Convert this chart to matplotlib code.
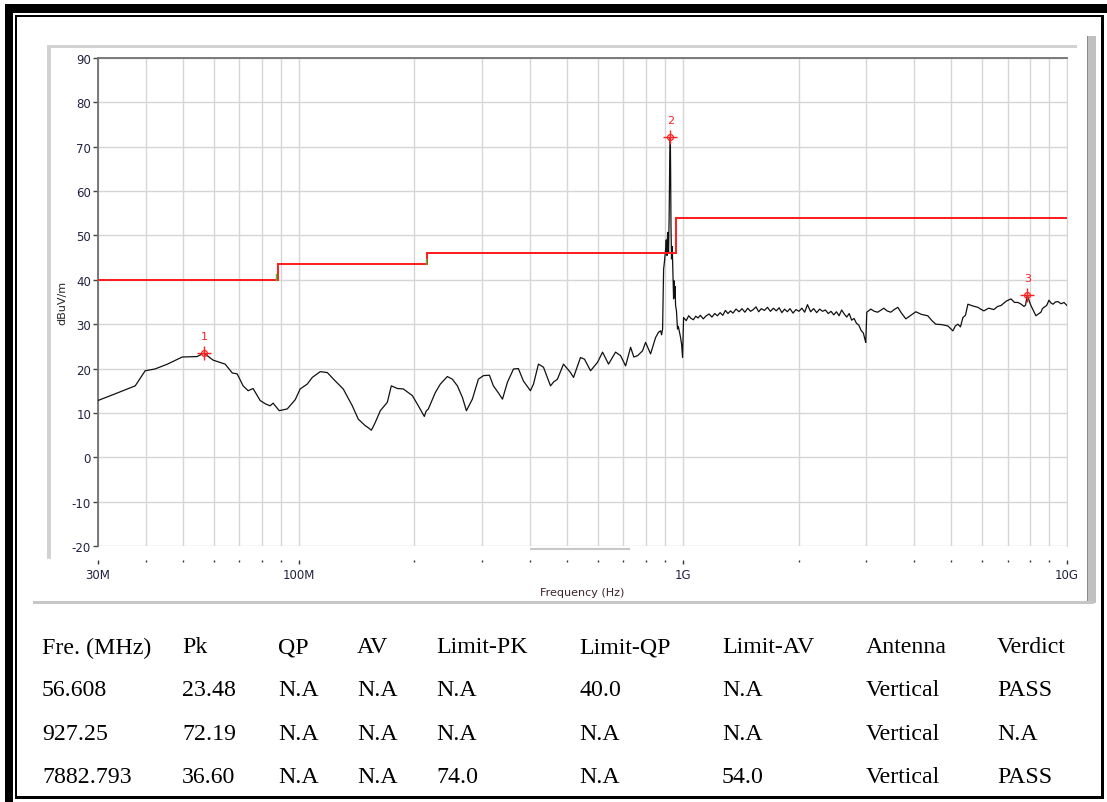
import matplotlib
matplotlib.use("Agg")
import matplotlib.pyplot as plt
from matplotlib.patches import Rectangle
from matplotlib.lines import Line2D

# ---------------- data ----------------
freq_mhz = [
    30, 32.8, 37.5, 39.8, 42.2, 45.5, 49.7, 54.3, 56.608, 59.8, 64.3, 67.1, 69.1, 71.6, 73.8,
    76.0, 79.3, 82.0, 84.2, 85.7, 88.9, 93.3, 97.9, 100.8, 105.2, 108.4, 113.7, 118.6, 124.4,
    130.5, 137.8, 142.8, 149.0, 152.0, 154.4, 156.0, 158.2, 163.0, 170.0, 174.1, 180.5, 187.1,
    197.5, 204.7, 212.2, 214.5, 217.4, 226.7, 233.6, 243.6, 251.0, 258.7, 266.6, 270.0, 273.1,
    283.0, 293.4, 302.4, 313.5, 321.0, 330.9, 339.0, 349.2, 362.1, 372.9, 384.3, 400.8, 408.3,
    420.6, 433.5, 452.1, 461.0, 471.3, 488.7, 509.7, 519.0, 541.2, 554.4, 574.8, 599.4, 617.7,
    640.2, 667.8, 688.2, 709.2, 730.8, 745.0, 762.0, 785.1, 799.5, 823.8, 849.0, 864.3, 874.8,
    880, 885.3, 890.7, 895, 901.5, 905, 909, 912.3, 915, 917.7, 921, 923.5, 927.25, 929, 931,
    934, 938, 942, 945.6, 948, 951, 954, 957, 962, 968, 973, 980, 986, 992, 998, 1004,
    1020, 1035, 1050, 1065, 1080, 1095, 1110, 1130, 1150, 1170, 1190, 1210, 1230, 1250, 1270,
    1290, 1310, 1330, 1350, 1375, 1400, 1425, 1450, 1475, 1500, 1525, 1550, 1575, 1600, 1630,
    1660, 1690, 1720, 1750, 1780, 1810, 1840, 1870, 1900, 1935, 1970, 2005, 2040, 2075, 2110,
    2150, 2190, 2230, 2270, 2310, 2350, 2390, 2430, 2470, 2510, 2550, 2590, 2630, 2670, 2710,
    2750, 2790, 2830, 2870, 2910, 2950, 2985, 2993, 3011, 3085, 3150, 3216, 3280, 3335, 3400,
    3477, 3550, 3627, 3700, 3805, 3920, 4040, 4180, 4340, 4450, 4554, 4720, 4896, 5046, 5120,
    5199, 5280, 5358, 5440, 5521, 5690, 5861, 5960, 6075, 6250, 6450, 6600, 6729, 6950, 7146,
    7300, 7453, 7600, 7726, 7800, 7882.793, 7960, 8055, 8180, 8300, 8420, 8553, 8630, 8709,
    8850, 8975, 9080, 9193, 9330, 9473, 9650, 9820, 10000,
]
level_dbuv = [
    12.8, 14.1, 16.1, 19.5, 19.9, 21.0, 22.6, 22.7, 23.48, 21.9, 21.0, 19.0, 18.8, 16.1, 15.0,
    15.5, 12.8, 12.0, 11.6, 12.2, 10.5, 10.9, 13.0, 15.4, 16.5, 18.0, 19.3, 19.1, 17.2,
    15.4, 11.6, 8.6, 7.1, 6.6, 6.1, 6.8, 7.9, 10.5, 12.4, 16.1, 15.5, 15.4,
    13.9, 11.6, 9.2, 10.4, 10.9, 14.6, 16.5, 18.2, 17.6, 16.1, 13.5, 11.9, 10.5,
    13.1, 17.6, 18.4, 18.5, 16.1, 14.5, 13.1, 16.9, 19.9, 20.0, 17.2, 15.0, 16.5,
    21.0, 20.3, 16.1, 17.0, 17.6, 21.0, 19.1, 18.0, 22.5, 22.1, 19.5, 21.4, 23.7,
    21.0, 23.7, 22.9, 20.6, 24.8, 22.6, 22.9, 24.0, 25.9, 23.3, 27.0, 28.2, 28.5,
    27.6, 28.9, 42.4, 44.0, 46.9, 49.0, 45.5, 50.7, 47.0, 46.2, 55.0, 65.0, 72.19, 64.2, 52.0,
    44.7, 47.5, 41.0, 35.7, 39.8, 36.0, 38.5, 34.2, 33.0, 28.9, 29.5, 28.2, 27.0, 25.5, 22.5, 31.5,
    30.8, 31.9, 31.3, 31.0, 31.8, 31.4, 32.0, 31.2, 31.9, 32.3, 31.6, 32.4, 31.9, 32.6, 32.0,
    33.1, 32.4, 33.0, 32.5, 33.4, 32.8, 33.5, 32.7, 33.6, 32.9, 33.3, 33.9, 32.8, 33.5, 33.1,
    33.8, 32.9, 33.6, 33.0, 33.7, 32.6, 33.4, 32.8, 33.5, 32.5, 33.3, 32.9, 33.6, 32.7, 34.4,
    32.8, 33.5, 32.6, 33.4, 32.9, 33.2, 32.4, 32.9, 32.1, 32.8, 31.9, 33.2, 32.3, 31.6, 32.4,
    30.9, 31.3, 30.2, 29.8, 28.6, 28.0, 26.2, 25.9, 32.7, 33.4, 32.9, 32.7, 33.2, 33.6, 33.0,
    32.7, 33.3, 33.8, 32.6, 31.2, 32.0, 32.8, 32.2, 31.9, 30.8, 30.0, 29.9, 29.6, 28.5, 29.6,
    30.0, 29.4, 31.5, 32.0, 34.5, 34.1, 33.8, 33.4, 33.0, 33.6, 33.3, 34.0, 34.2, 35.2, 35.7,
    34.9, 34.9, 34.5, 34.0, 34.3, 36.60, 35.4, 34.2, 33.0, 31.9, 32.3, 32.7, 33.5, 33.8,
    34.2, 35.4, 34.8, 34.5, 35.0, 35.1, 34.6, 34.9, 34.2,
]

limit_edges_mhz = [30, 88, 216, 960, 10000]
limit_levels = [40.0, 43.5, 46.0, 54.0]

marker_labels = ["1", "2", "3"]
marker_freq = [56.608, 927.25, 7882.793]
marker_level = [23.48, 72.19, 36.60]

y_ticks = [-20, -10, 0, 10, 20, 30, 40, 50, 60, 70, 80, 90]
x_major = [30, 100, 1000, 10000]
x_major_labels = ["30M", "100M", "1G", "10G"]
x_minor = [40, 50, 60, 70, 80, 90, 200, 300, 400, 500, 600, 700, 800, 900,
           2000, 3000, 4000, 5000, 6000, 7000, 8000, 9000]

table_header = ["Fre. (MHz)", "Pk", "QP", "AV", "Limit-PK", "Limit-QP", "Limit-AV", "Antenna", "Verdict"]
table_rows = [
    ["56.608", "23.48", "N.A", "N.A", "N.A", "40.0", "N.A", "Vertical", "PASS"],
    ["927.25", "72.19", "N.A", "N.A", "N.A", "N.A", "N.A", "Vertical", "N.A"],
    ["7882.793", "36.60", "N.A", "N.A", "74.0", "N.A", "54.0", "Vertical", "PASS"],
]

# ---------------- figure ----------------
W, H = 1107, 803
fig = plt.figure(figsize=(W / 100, H / 100), dpi=100)
fig.patch.set_facecolor("white")


def rect(x0, y0, x1, y1, color, z=0):
    fig.add_artist(Rectangle((x0 / W, 1 - y1 / H), (x1 - x0) / W, (y1 - y0) / H,
                             transform=fig.transFigure, facecolor=color,
                             edgecolor="none", zorder=z))


def hline(x0, x1, y, color, lw):
    fig.add_artist(Line2D([x0 / W, x1 / W], [1 - y / H, 1 - y / H],
                          transform=fig.transFigure, color=color, lw=lw))


# outer frame
rect(5, 5, W, 14, "black")
rect(5, 5, 13, H, "black")
rect(15, 16, 1104, 18, "black")
rect(15, 16, 17, 800, "black")
rect(1101, 16, 1104, 800, "black")
rect(15, 797, 1104, 800, "black")

# panel decorations (gray)
rect(48, 46, 1077, 49, "#d2d2d2")
rect(47, 46, 51, 560, "#d2d2d2")
rect(1087, 37, 1096, 604, "#c0c0c0")
rect(1087, 37, 1088, 604, "#8a8a8a")
rect(33, 602, 1094, 605, "#c6c6c6")
hline(531, 629, 550, "#c8c8c8", 1.5)

# axes
ax = fig.add_axes([98 / W, 1 - 547 / H, (1067 - 98) / W, (547 - 59) / H])
ax.set_xscale("log")
ax.set_xlim(30, 10000)
ax.set_ylim(-20, 90)

ax.plot(freq_mhz, level_dbuv, color="#111111", lw=0.9, zorder=3)
ax.stairs(limit_levels, limit_edges_mhz, baseline=None, color="#ff1a1a", lw=1.4, zorder=4)
for i in (1, 2):
    ax.plot([limit_edges_mhz[i] * 0.993] * 2,
            [limit_levels[i - 1], limit_levels[i - 1] + 1.3],
            color="#33cc33", lw=1.0, zorder=4)

for lab, fx, lv in zip(marker_labels, marker_freq, marker_level):
    ax.plot([fx], [lv], marker="+", ms=9.5, mew=1.0, color="#ff2020", zorder=5)
    ax.plot([fx], [lv], marker="o", ms=4.2, mfc="none", mew=0.9, mec="#ff2020", zorder=5)
    ax.annotate(lab, (fx, lv), xytext=(0, 12.5), textcoords="offset points",
                ha="center", va="center", color="#ff2020", fontsize=8)

ax.set_yticks(y_ticks)
ax.set_yticklabels([str(v) for v in y_ticks])
ax.set_xticks(x_major)
ax.set_xticklabels(x_major_labels)
ax.set_xticks(x_minor, minor=True)
ax.set_xticklabels([""] * len(x_minor), minor=True)

ax.grid(True, which="both", color="#d6d6d6", lw=1.0, zorder=0)
ax.set_axisbelow(True)

for s in ("left", "top"):
    ax.spines[s].set_color("#707070")
    ax.spines[s].set_linewidth(1.3)
ax.spines["right"].set_color("#d6d6d6")
ax.spines["bottom"].set_position(("outward", 10))
ax.spines["bottom"].set_visible(False)

ax.tick_params(axis="y", direction="out", length=3.5, width=1, color="#444444",
               labelsize=8.5, labelcolor="#222240", pad=1.5)
ax.tick_params(axis="x", which="major", direction="out", length=3, width=1,
               color="#333333", labelsize=8.5, labelcolor="#222240", pad=3)
ax.tick_params(axis="x", which="minor", direction="out", length=1.5, width=1,
               color="#333333")

fig.text(62 / W, 1 - 303 / H, "dBuV/m", rotation=90, ha="center", va="center",
         fontsize=8, color="#222222")
fig.text(582 / W, 1 - 593 / H, "Frequency (Hz)", ha="center", va="center",
         fontsize=8, color="#3a2228")

# table
col_x = [42, 182, 278, 357, 436, 579, 722, 866, 997]
row_y = [648, 691, 735, 778]
for r, row in enumerate([table_header] + table_rows):
    for c, txt in enumerate(row):
        fig.text(col_x[c] / W, 1 - row_y[r] / H, txt, ha="left", va="center",
                 fontsize=17.2, family="Liberation Serif", color="black")

fig.savefig("out.png", dpi=100, facecolor="white")
